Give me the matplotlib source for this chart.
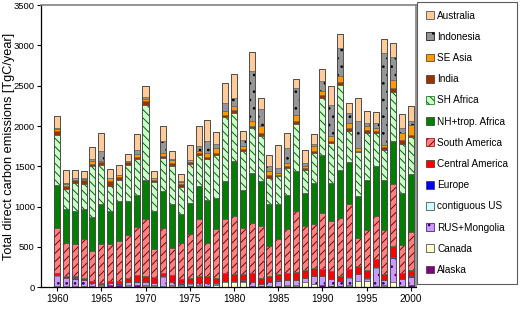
import matplotlib
matplotlib.use("Agg")
import matplotlib.pyplot as plt
from matplotlib.patches import Patch
import numpy as np

plt.rcParams["font.family"] = ["Liberation Sans", "DejaVu Sans"]
plt.rcParams["hatch.linewidth"] = 0.7

years = list(range(1960, 2001))

# stacked from the bottom up
alaska = [10, 10, 10, 10, 15, 20, 25, 25, 20, 25, 20, 20, 10, 20, 20, 15, 15, 10, 10, 5,
          5, 5, 15, 15, 15, 15, 20, 20, 10, 10, 25, 15, 15, 20, 5, 5, 10, 20, 5, 10, 25]
canada = [5, 5, 5, 5, 3, 3, 3, 3, 5, 3, 3, 3, 3, 3, 3, 5, 10, 10, 20, 60,
          60, 65, 5, 5, 5, 5, 5, 5, 60, 30, 5, 5, 5, 10, 70, 75, 5, 5, 60, 5, 5]
rus_mongolia = [130, 95, 90, 75, 35, 15, 20, 15, 35, 40, 40, 30, 120, 40, 20, 25, 25, 30, 15, 10,
                10, 10, 45, 20, 40, 60, 60, 60, 45, 100, 110, 80, 55, 90, 90, 25, 230, 65, 300, 85, 100]
contiguous_us = [3] * 41
contiguous_us[35] = 10
europe = [2] * 41
central_america = [25, 25, 30, 25, 20, 15, 25, 30, 55, 80, 70, 65, 40, 90, 50, 60, 80, 85, 70, 100,
                   85, 75, 110, 75, 75, 75, 90, 100, 100, 95, 80, 95, 60, 100, 95, 100, 95, 65, 140, 75, 85]
south_america = [563, 412, 392, 482, 371, 474, 454, 495, 523, 589, 703, 347, 560, 332, 446, 546, 706, 412, 597, 661,
                 717, 578, 620, 639, 371, 434, 537, 754, 539, 539, 699, 620, 722, 802, 349, 499, 536, 556, 775, 339, 463]
nh_africa = [536, 413, 412, 363, 425, 495, 412, 495, 425, 408, 495, 474, 453, 537, 359, 392, 412, 536, 392, 474,
             681, 474, 618, 556, 516, 433, 433, 495, 412, 516, 721, 475, 598, 523, 516, 619, 619, 619, 524, 651, 726]
sh_africa = [618, 250, 351, 321, 626, 494, 318, 260, 453, 440, 928, 359, 413, 473, 342, 486, 392, 502, 536, 796,
             597, 474, 557, 560, 329, 350, 330, 589, 289, 371, 701, 494, 1051, 392, 544, 577, 412, 371, 618, 610, 454]
india = [45, 40, 40, 45, 35, 35, 55, 45, 30, 30, 40, 25, 30, 45, 40, 25, 20, 20, 25, 30,
         40, 25, 29, 40, 40, 20, 21, 29, 20, 30, 35, 21, 29, 33, 20, 41, 30, 35, 41, 50, 28]
se_asia = [25, 30, 15, 15, 25, 15, 35, 20, 20, 35, 30, 25, 30, 30, 20, 15, 21, 55, 60, 40,
           50, 37, 53, 85, 42, 21, 41, 82, 20, 52, 47, 62, 74, 62, 34, 41, 32, 27, 103, 82, 124]
indonesia = [15, 10, 5, 10, 30, 115, 5, 5, 0, 50, 25, 5, 145, 15, 10, 10, 62, 145, 50, 100,
             100, 82, 619, 205, 62, 62, 185, 330, 42, 33, 124, 391, 350, 124, 330, 49, 62, 1134, 289, 62, 41]
australia = [153, 165, 105, 91, 155, 227, 111, 123, 86, 191, 140, 89, 195, 96, 95, 176, 248, 260, 150, 250,
             289, 112, 247, 137, 145, 280, 186, 116, 157, 120, 157, 227, 174, 123, 284, 145, 132, 173, 174, 177, 194]

series = [
    ("Alaska", alaska, "#800080", None, None),
    ("Canada", canada, "#FFFFCC", None, None),
    ("RUS+Mongolia", rus_mongolia, "#CC99FF", "..", "#330066"),
    ("contiguous US", contiguous_us, "#CCFFFF", None, None),
    ("Europe", europe, "#0000FF", None, None),
    ("Central America", central_america, "#FF0000", None, None),
    ("South America", south_america, "#FF8080", "////", "#800000"),
    ("NH+trop. Africa", nh_africa, "#008000", None, None),
    ("SH Africa", sh_africa, "#CCFFCC", "\\\\\\\\", "#006600"),
    ("India", india, "#993300", None, None),
    ("SE Asia", se_asia, "#FF9900", None, None),
    ("Indonesia", indonesia, "#969696", "..", "#000000"),
    ("Australia", australia, "#FFCC99", None, None),
]

fig = plt.figure(figsize=(5.27, 3.14), dpi=100)
ax = fig.add_axes([0.078, 0.085, 0.711, 0.899])

x = np.array(years)
w = 0.68
bottom = np.zeros(len(years))
handles = []
for name, vals, col, hatch, hcol in series:
    v = np.array(vals, dtype=float)
    if hatch:
        ax.bar(x, v, w, bottom=bottom, color=col, edgecolor=hcol, hatch=hatch, linewidth=0)
        ax.bar(x, v, w, bottom=bottom, fill=False, edgecolor="#555555", linewidth=0.4)
        handles.append(Patch(facecolor=col, edgecolor=hcol, hatch=hatch, linewidth=0.5))
    else:
        ax.bar(x, v, w, bottom=bottom, color=col, edgecolor="#555555", linewidth=0.4)
        handles.append(Patch(facecolor=col, edgecolor="#333333", linewidth=0.5))
    bottom += v

# outline of the whole bar
ax.bar(x, bottom, w, fill=False, edgecolor="#444444", linewidth=0.6)

ax.set_xlim(1958.2, 2000.55)
ax.set_ylim(0, 3500)
ax.set_yticks(range(0, 3501, 500))
ax.set_xticks(range(1960, 2001, 5))
ax.tick_params(labelsize=7.2, length=3, width=0.8, direction="out", pad=2)
ax.tick_params(axis="y", labelsize=6.8, pad=1.5)
ax.set_ylabel("Total direct carbon emissions [TgC/year]", fontsize=9.2)
ax.yaxis.set_label_coords(-0.0695, 0.5)
for s in ("top", "right"):
    ax.spines[s].set_color("#808080")
    ax.spines[s].set_linewidth(1.2)
for s in ("left", "bottom"):
    ax.spines[s].set_linewidth(0.9)

names = [s[0] for s in series][::-1]
leg = fig.legend(handles[::-1], names, loc="upper left", bbox_to_anchor=(0.792, 0.995),
                 fontsize=7.2, frameon=True, fancybox=False, edgecolor="#333333",
                 handlelength=0.8, handleheight=0.8, handletextpad=0.3,
                 labelspacing=1.12, borderpad=0.9, borderaxespad=0)
leg.get_frame().set_linewidth(0.8)

fig.savefig("out.png", dpi=100, facecolor="white")
